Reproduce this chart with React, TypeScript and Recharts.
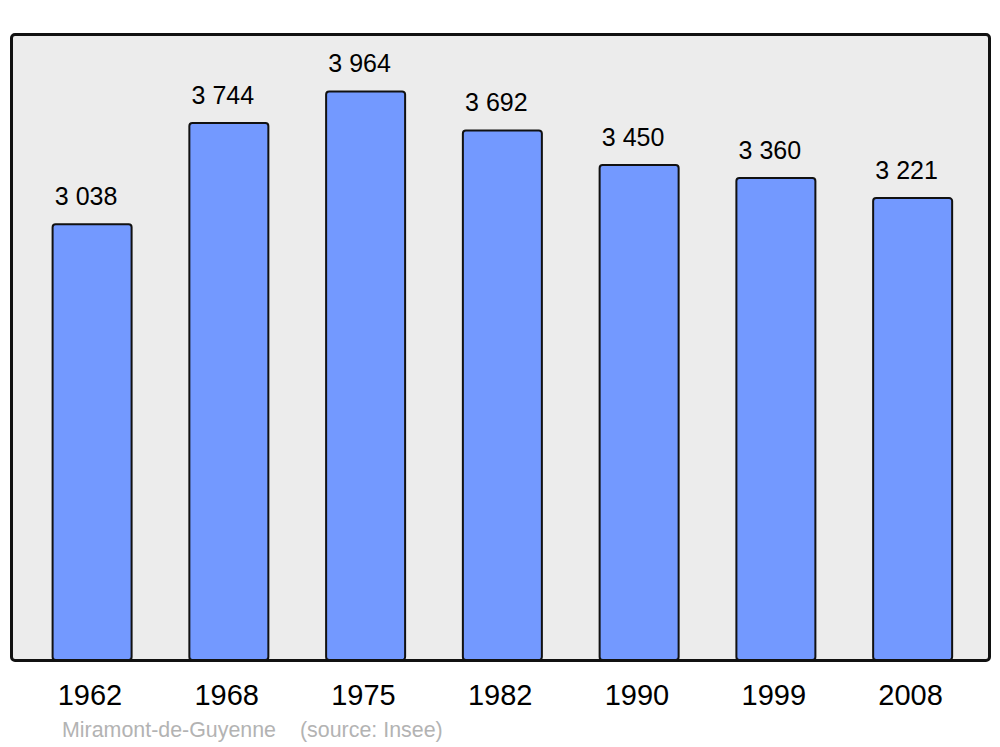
import { Bar, BarChart, LabelList, XAxis, YAxis } from "recharts";

const years = ["1962", "1968", "1975", "1982", "1990", "1999", "2008"];
const population = [3038, 3744, 3964, 3692, 3450, 3360, 3221];
const townName = "Miramont-de-Guyenne";
const sourceNote = "(source: Insee)";

const FONT = "'Liberation Sans', Arial, sans-serif";

const rows = years.map((y, i) => ({ year: y, pop: population[i] }));

// "3038" -> "3 038"
const fmtPop = (v: number) => String(v).replace(/\B(?=(\d{3})+(?!\d))/g, " ");

function YearTick(props: any) {
  const { x, y, payload } = props;
  return (
    <text x={x - 2} y={y + 45} textAnchor="middle" fontSize={29} fontFamily={FONT} fill="#000">
      {payload.value}
    </text>
  );
}

function ValueLabel(props: any) {
  const { x, y, width, value } = props;
  return (
    <text x={x + width / 2 - 6} y={y - 19} textAnchor="middle" fontSize={25} fontFamily={FONT} fill="#000">
      {fmtPop(value)}
    </text>
  );
}

export default function App() {
  return (
    <div style={{ position: "absolute", left: 0, top: 0, width: 1000, height: 747, background: "#fff" }}>
      {/* plot frame */}
      <div
        style={{
          position: "absolute",
          left: 9.5,
          top: 32.5,
          width: 981,
          height: 629,
          boxSizing: "border-box",
          border: "3px solid #111",
          borderRadius: 5,
          background: "#ececec",
        }}
      />
      <div style={{ position: "absolute", left: 0, top: 0 }}>
        <BarChart
          width={1000}
          height={747}
          data={rows}
          margin={{ top: 34, right: 11, left: 11, bottom: 27 }}
        >
          <YAxis hide domain={[0, 4364]} />
          <XAxis
            dataKey="year"
            height={60}
            axisLine={false}
            tickLine={false}
            tickSize={0}
            tickMargin={0}
            interval={0}
            padding={{ left: 12.6, right: 8.1 }}
            tick={<YearTick />}
          />
          <Bar
            dataKey="pop"
            barSize={79}
            fill="#7399ff"
            stroke="#111"
            strokeWidth={2}
            radius={3}
            isAnimationActive={false}
          >
            <LabelList dataKey="pop" content={<ValueLabel />} />
          </Bar>
        </BarChart>
      </div>
      <svg width={1000} height={747} style={{ position: "absolute", left: 0, top: 0, pointerEvents: "none" }}>
        <text x={62} y={737} fontSize={21.4} fontFamily={FONT} fill="#b3b3b3">
          {townName}
        </text>
        <text x={300} y={737} fontSize={21.4} fontFamily={FONT} fill="#b3b3b3">
          {sourceNote}
        </text>
      </svg>
    </div>
  );
}
